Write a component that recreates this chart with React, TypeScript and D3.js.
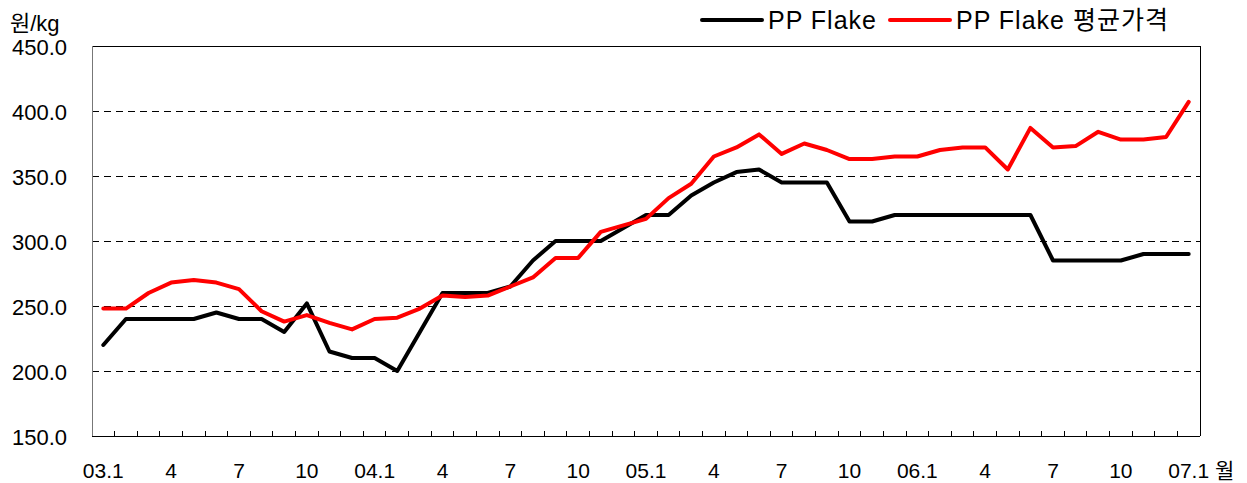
import { useEffect, useRef } from 'react'
import * as d3 from 'd3'

// monthly, 2003.1 ~ 2007.1
const MONTHS = d3.range(49).map((i) => `${String(3 + Math.floor(i / 12)).padStart(2, '0')}.${(i % 12) + 1}`)

const TICK_LABELS = [
  '03.1', '4', '7', '10',
  '04.1', '4', '7', '10',
  '05.1', '4', '7', '10',
  '06.1', '4', '7', '10',
  '07.1',
]

const PP_FLAKE = [
  220, 240, 240, 240, 240, 245, 240, 240, 230, 252, 215, 210,
  210, 200, 230, 260, 260, 260, 265, 285, 300, 300, 300, 310,
  320, 320, 335, 345, 353, 355, 345, 345, 345, 315, 315, 320,
  320, 320, 320, 320, 320, 320, 285, 285, 285, 285, 290, 290,
  290,
]

const PP_FLAKE_AVG = [
  248, 248, 260, 268, 270, 268, 263, 246, 238, 243, 237, 232,
  240, 241, 248, 258, 257, 258, 265, 272, 287, 287, 307, 312,
  317, 333, 344, 365, 372, 382, 367, 375, 370, 363, 363, 365,
  365, 370, 372, 372, 355, 387, 372, 373, 384, 378, 378, 380,
  407,
]

const Y_TICKS = [150, 200, 250, 300, 350, 400, 450]

const SERIES = [
  { name: 'PP Flake', values: PP_FLAKE, color: '#000000' },
  { name: 'PP Flake 평균가격', values: PP_FLAKE_AVG, color: '#ff0000' },
]

const FONT = '"Liberation Sans", Arial, "Noto Sans CJK KR", sans-serif'

export default function App() {
  const svgRef = useRef<SVGSVGElement>(null)

  useEffect(() => {
    if (!svgRef.current) return
    const svg = d3.select(svgRef.current)
    svg.selectAll('*').remove()

    const left = 92
    const right = 1200
    const top = 46
    const bottom = 436

    const x = d3.scaleBand<string>().domain(MONTHS).range([left, right]).padding(0)
    const cx = (m: string) => (x(m) as number) + x.bandwidth() / 2
    const y = d3.scaleLinear().domain([150, 450]).range([bottom, top])

    const g = svg.append('g').attr('font-family', FONT)

    // grid
    Y_TICKS.filter((t) => t > 150 && t < 450).forEach((t) => {
      g.append('line')
        .attr('x1', left)
        .attr('x2', right)
        .attr('y1', y(t))
        .attr('y2', y(t))
        .attr('stroke', '#000')
        .attr('stroke-width', 1)
        .attr('stroke-dasharray', '7,5')
        .attr('shape-rendering', 'crispEdges')
    })

    // frame
    g.append('line').attr('x1', left).attr('x2', right).attr('y1', top).attr('y2', top)
      .attr('stroke', '#000').attr('shape-rendering', 'crispEdges')
    g.append('line').attr('x1', right).attr('x2', right).attr('y1', top).attr('y2', bottom)
      .attr('stroke', '#000').attr('shape-rendering', 'crispEdges')
    g.append('line').attr('x1', left).attr('x2', left).attr('y1', top).attr('y2', bottom)
      .attr('stroke', '#777').attr('shape-rendering', 'crispEdges')
    g.append('line').attr('x1', left).attr('x2', right).attr('y1', bottom).attr('y2', bottom)
      .attr('stroke', '#000').attr('shape-rendering', 'crispEdges')

    // x ticks at category boundaries (pointing inward)
    MONTHS.slice(1).forEach((m) => {
      const tx = x(m) as number
      g.append('line')
        .attr('x1', tx).attr('x2', tx)
        .attr('y1', bottom).attr('y2', bottom - 5)
        .attr('stroke', '#000')
        .attr('shape-rendering', 'crispEdges')
    })

    // x labels
    TICK_LABELS.forEach((label, i) => {
      g.append('text')
        .attr('x', cx(MONTHS[i * 3]))
        .attr('y', 478)
        .attr('text-anchor', 'middle')
        .attr('font-size', 21)
        .attr('fill', '#000')
        .text(label)
    })
    g.append('text')
      .attr('x', 1215)
      .attr('y', 478)
      .attr('font-size', 21)
      .attr('fill', '#000')
      .text('월')

    // y labels
    Y_TICKS.forEach((t) => {
      g.append('text')
        .attr('x', 67)
        .attr('y', y(t))
        .attr('dy', '0.42em')
        .attr('text-anchor', 'end')
        .attr('font-size', 22)
        .attr('fill', '#000')
        .text(t.toFixed(1))
    })
    g.append('text')
      .attr('x', 10)
      .attr('y', 31)
      .attr('font-size', 22)
      .attr('fill', '#000')
      .text('원/kg')

    // lines
    const line = d3.line<number>()
      .x((_, i) => cx(MONTHS[i]))
      .y((d) => y(d))

    SERIES.forEach((s) => {
      g.append('path')
        .datum(s.values)
        .attr('d', line)
        .attr('fill', 'none')
        .attr('stroke', s.color)
        .attr('stroke-width', 4)
        .attr('stroke-linejoin', 'round')
        .attr('stroke-linecap', 'round')
    })

    // legend
    const legend = g.append('g')
    const legendPos = [702, 890]
    SERIES.forEach((s, i) => {
      const lx = legendPos[i]
      legend.append('line')
        .attr('x1', lx).attr('x2', lx + 60)
        .attr('y1', 20).attr('y2', 20)
        .attr('stroke', s.color)
        .attr('stroke-width', 4)
        .attr('stroke-linecap', 'round')
      legend.append('text')
        .attr('x', lx + 66)
        .attr('y', 29)
        .attr('font-size', 25)
        .attr('letter-spacing', 1)
        .attr('fill', '#000')
        .text(s.name)
    })
  }, [])

  return (
    <svg
      ref={svgRef}
      width={1247}
      height={483}
      style={{ position: 'absolute', left: 0, top: 0, background: '#fff' }}
    />
  )
}
